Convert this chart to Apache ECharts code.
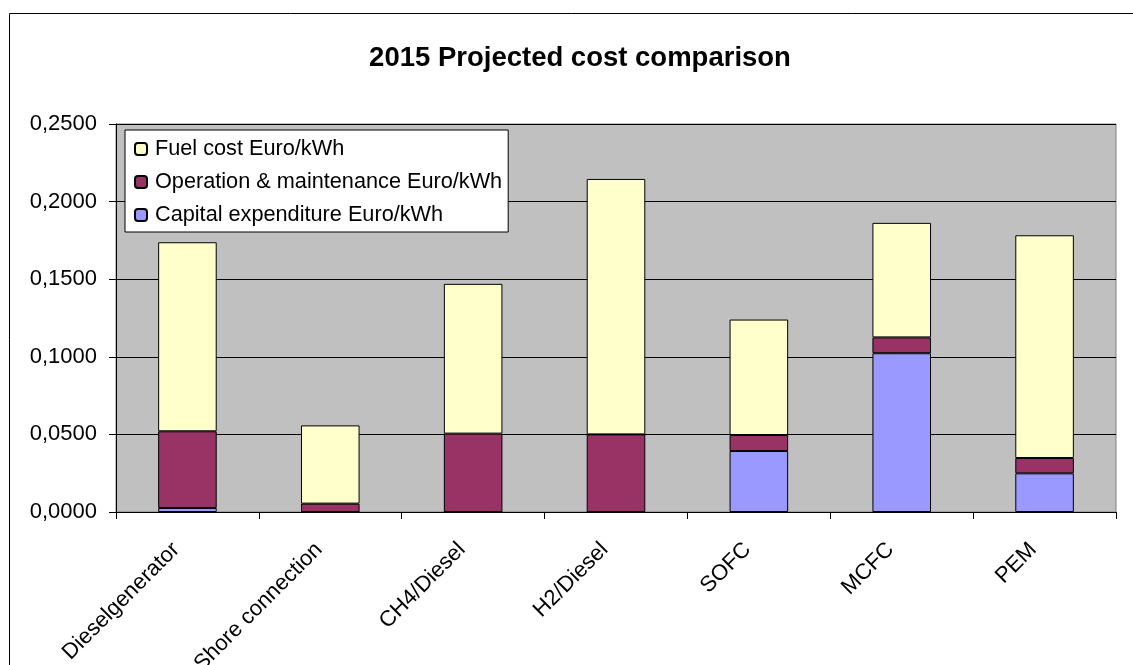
<!DOCTYPE html>
<html>
<head>
<meta charset="utf-8">
<script src="https://cdn.jsdelivr.net/npm/echarts@6/dist/echarts.min.js"></script>
<style>
html,body{margin:0;padding:0;background:#fff;}
#chart{width:1133px;height:665px;}
</style>
</head>
<body>
<div id="chart"></div>
<script>
const categories = ['Dieselgenerator', 'Shore connection', 'CH4/Diesel', 'H2/Diesel', 'SOFC', 'MCFC', 'PEM'];
const capexValues = [0.0026, 0, 0, 0, 0.0393, 0.1023, 0.0249];
const omValues = [0.0494, 0.0054, 0.0505, 0.0500, 0.0103, 0.0102, 0.0099];
const fuelValues = [0.1218, 0.0504, 0.0965, 0.1646, 0.0744, 0.0738, 0.1435];
const seriesNames = ['Capital expenditure Euro/kWh', 'Operation & maintenance Euro/kWh', 'Fuel cost Euro/kWh'];
const yTicks = { min: 0, max: 0.25, interval: 0.05 };

const FONT = '"Liberation Sans", Arial, sans-serif';
const chart = echarts.init(document.getElementById('chart'), null, { renderer: 'canvas' });

function barSeries(name, data, color) {
  return {
    name: name,
    type: 'bar',
    stack: 'total',
    data: data,
    barCategoryGap: '59%',
    itemStyle: { color: color, borderColor: '#000', borderWidth: 1 },
    emphasis: { disabled: true },
    animation: false
  };
}

chart.setOption({
  animation: false,
  backgroundColor: '#fff',
  title: {
    text: '2015 Projected cost comparison',
    left: 575,
    textAlign: 'center',
    top: 39,
    textStyle: { fontFamily: FONT, fontSize: 27.5, fontWeight: 'bold', color: '#000' }
  },
  graphic: [{
    type: 'rect',
    shape: { x: 9.5, y: 13.5, width: 1200, height: 800 },
    style: { fill: 'none', stroke: '#000', lineWidth: 1 },
    silent: true,
    z: 100
  }],
  legend: {
    orient: 'vertical',
    left: 125,
    top: 130,
    padding: [8, 6, 6, 9],
    backgroundColor: '#fff',
    borderColor: '#000',
    borderWidth: 1,
    itemWidth: 12,
    itemHeight: 12,
    itemGap: 11,
    selectedMode: false,
    data: [seriesNames[2], seriesNames[1], seriesNames[0]],
    textStyle: { fontFamily: FONT, fontSize: 21.7, color: '#000', padding: [0, 0, 0, 3] }
  },
  grid: {
    left: 116,
    right: 17,
    top: 124,
    bottom: 153,
    outerBoundsMode: 'none',
    containLabel: false,
    show: true,
    backgroundColor: '#c0c0c0',
    borderColor: '#808080',
    borderWidth: 1
  },
  xAxis: {
    type: 'category',
    data: categories,
    axisLine: { lineStyle: { color: '#000', width: 1 } },
    axisTick: { show: true, length: 7, lineStyle: { color: '#000' } },
    axisLabel: {
      rotate: 45,
      margin: 23,
      padding: [0, 16, 0, 0],
      interval: 0,
      fontFamily: FONT,
      fontSize: 22,
      color: '#000'
    }
  },
  yAxis: {
    type: 'value',
    min: yTicks.min,
    max: yTicks.max,
    interval: yTicks.interval,
    axisLine: { show: true, lineStyle: { color: '#000', width: 1 } },
    axisTick: { show: true, length: 7, lineStyle: { color: '#000' } },
    splitLine: { lineStyle: { color: '#000', width: 1 } },
    axisLabel: {
      margin: 19,
      fontFamily: FONT,
      fontSize: 22,
      color: '#000',
      formatter: function (v) { return v.toFixed(4).replace('.', ','); }
    }
  },
  series: [
    barSeries(seriesNames[0], capexValues, '#9999ff'),
    barSeries(seriesNames[1], omValues, '#993366'),
    barSeries(seriesNames[2], fuelValues, '#ffffcc')
  ]
});
</script>
</body>
</html>
